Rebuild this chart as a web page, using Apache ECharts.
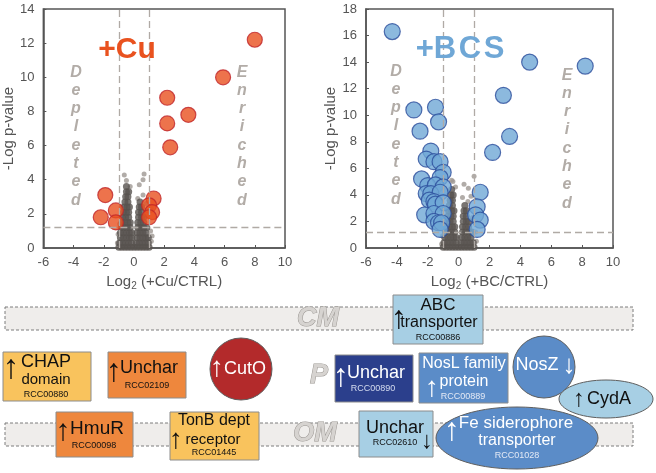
<!DOCTYPE html>
<html>
<head>
<meta charset="utf-8">
<script src="https://cdn.jsdelivr.net/npm/echarts@6/dist/echarts.min.js"></script>
<style>
html, body { margin: 0; padding: 0; background: #fff; }
#chart { width: 656px; height: 473px; }
</style>
</head>
<body>
<div id="chart"></div>
<script>
// axes
var xMin = -6, xMax = 10, xStep = 2;
var cuYMax = 14, bcYMax = 18, yStep = 2;
var fcCut = 1, pCut = 1.2;

// +Cu: significant proteins [log2 FC, -log p]
var cuHits = [
    [8.0, 12.2], [5.9, 10.0], [2.2, 8.8], [3.6, 7.8], [2.2, 7.3], [2.4, 5.9],
    [-1.9, 3.1], [-1.2, 2.2], [-2.2, 1.8], [-1.2, 1.5],
    [1.3, 2.9], [1.0, 2.5], [1.2, 2.1], [1.0, 1.8]
];
// +Cu: non-significant cloud
var cuCloud = [
    [-1.0, 0.05], [-0.8, 0.05], [-0.6, 0.05], [-0.4, 0.05], [-0.2, 0.05], [0, 0.05], [0.2, 0.05], [0.4, 0.05], [0.6, 0.05], [0.8, 0.05], [1.0, 0.05],
    [-0.95, 0.3], [-0.75, 0.3], [-0.55, 0.3], [-0.35, 0.3], [-0.15, 0.3], [0.15, 0.3], [0.35, 0.3], [0.55, 0.3], [0.75, 0.3], [0.95, 0.3],
    [-0.9, 0.6], [-0.7, 0.6], [-0.5, 0.6], [-0.3, 0.6], [-0.15, 0.6], [0.2, 0.6], [0.4, 0.6], [0.6, 0.6], [0.8, 0.6], [0.95, 0.6],
    [-0.9, 0.9], [-0.7, 0.9], [-0.5, 0.9], [-0.3, 0.9], [-0.15, 0.9], [0.2, 0.9], [0.4, 0.9], [0.6, 0.9], [0.8, 0.9],
    [-0.85, 1.2], [-0.65, 1.2], [-0.45, 1.2], [-0.25, 1.2], [0.25, 1.2], [0.45, 1.2], [0.65, 1.2], [0.85, 1.2],
    [-0.8, 1.5], [-0.6, 1.5], [-0.4, 1.5], [-0.25, 1.5], [0.25, 1.5], [0.45, 1.5], [0.65, 1.5],
    [-0.75, 1.8], [-0.55, 1.8], [-0.35, 1.8], [0.3, 1.8], [0.5, 1.8], [0.65, 1.8],
    [-0.7, 2.1], [-0.5, 2.1], [-0.35, 2.1], [0.3, 2.1], [0.5, 2.1],
    [-0.65, 2.4], [-0.45, 2.4], [-0.3, 2.4], [0.35, 2.4], [0.5, 2.4],
    [-0.6, 2.7], [-0.4, 2.7], [0.4, 2.7],
    [-0.55, 3.0], [-0.4, 3.0],
    [-0.5, 3.3], [-0.35, 3.3],
    [-0.5, 3.6]
];
var cuStray = [
    [-0.64, 4.28], [0.67, 4.33], [0.6, 4.0], [0.35, 3.7], [-0.5, 3.95], [-1.1, 0.3], [-1.05, 0.8], [-0.95, 1.4],
    [1.15, 0.4], [1.1, 1.0], [1.2, 0.7], [1.15, 2.3], [0.9, 1.9], [0.8, 2.6], [-0.85, 2.4], [-0.25, 3.6], [0.25, 2.9], [0.6, 3.1]
];

// +BCS: significant proteins
var bcHits = [
    [-4.3, 16.3], [4.6, 14.0], [8.2, 13.7], [2.9, 11.5], [-2.9, 10.4], [-1.5, 10.6], [-1.3, 9.5], [-2.5, 8.8],
    [3.3, 8.4], [2.2, 7.2], [-1.8, 7.3], [-2.1, 6.7], [-1.6, 6.5], [-1.2, 6.5], [-1.0, 5.7], [-2.4, 5.2],
    [-1.2, 5.3], [-2.0, 4.7], [-1.5, 4.75], [-1.0, 4.6], [-2.1, 4.1], [-1.8, 4.1], [-1.2, 4.2], [-1.9, 3.6],
    [-1.6, 3.5], [-1.5, 3.3], [-1.0, 3.4], [-2.2, 2.5], [-1.6, 2.6], [-1.0, 2.6], [-1.6, 2.0], [-1.3, 1.9],
    [-1.1, 1.9], [-1.2, 1.4],
    [1.4, 4.2], [1.2, 3.1], [1.1, 2.5], [1.4, 2.1], [1.2, 1.4]
];
var bcCloud = [
    [-1.0, 0.05], [-0.8, 0.05], [-0.6, 0.05], [-0.4, 0.05], [-0.2, 0.05], [0, 0.05], [0.2, 0.05], [0.4, 0.05], [0.6, 0.05], [0.8, 0.05], [1.0, 0.05],
    [-0.95, 0.4], [-0.75, 0.4], [-0.55, 0.4], [-0.35, 0.4], [-0.15, 0.4], [0.15, 0.4], [0.35, 0.4], [0.55, 0.4], [0.75, 0.4], [0.95, 0.4],
    [-0.9, 0.8], [-0.7, 0.8], [-0.5, 0.8], [-0.3, 0.8], [-0.15, 0.8], [0.2, 0.8], [0.4, 0.8], [0.6, 0.8], [0.8, 0.8],
    [-0.85, 1.2], [-0.65, 1.2], [-0.45, 1.2], [-0.25, 1.2], [0.25, 1.2], [0.45, 1.2], [0.65, 1.2], [0.85, 1.2],
    [-0.8, 1.6], [-0.6, 1.6], [-0.4, 1.6], [-0.25, 1.6], [0.25, 1.6], [0.45, 1.6], [0.65, 1.6],
    [-0.75, 2.0], [-0.55, 2.0], [-0.35, 2.0], [0.3, 2.0], [0.5, 2.0], [0.65, 2.0],
    [-0.7, 2.4], [-0.5, 2.4], [-0.35, 2.4], [0.3, 2.4], [0.5, 2.4],
    [-0.65, 2.8], [-0.45, 2.8], [-0.3, 2.8], [0.35, 2.8], [0.5, 2.8],
    [-0.6, 3.2], [-0.4, 3.2], [0.4, 3.2],
    [-0.55, 3.6], [-0.4, 3.6],
    [-0.5, 4.0], [-0.35, 4.0],
    [-0.45, 4.4]
];
var bcStray = [
    [-0.37, 5.0], [1.0, 5.4], [0.35, 4.8], [0.63, 4.5], [-0.2, 4.6], [0.8, 3.9], [-1.1, 0.3], [-1.05, 0.9],
    [1.15, 0.5], [1.1, 1.2], [0.9, 2.3], [-0.85, 3.0], [0.25, 3.8], [-0.45, 5.1], [0.6, 3.5]
];

var FONT = '"Liberation Sans", Arial, sans-serif';
var c = echarts.init(document.getElementById('chart'));

function xAx(idx, label) {
    return {
        gridIndex: idx, type: 'value', min: xMin, max: xMax, interval: xStep,
        name: '{a|Log}{s|2}{a| (' + label + ')}', nameLocation: 'middle', nameGap: 21,
        nameTextStyle: { rich: { a: { fontSize: 15, color: '#555', fontFamily: FONT }, s: { fontSize: 10, color: '#555', fontFamily: FONT, padding: [9, 0, 0, 0] } } },
        axisLine: { onZero: false, lineStyle: { color: '#555', width: 1.5 } },
        axisTick: { inside: true, length: 3, lineStyle: { color: '#555' } },
        axisLabel: { color: '#555', fontSize: 13, fontFamily: FONT, margin: 8 },
        splitLine: { show: false }
    };
}
function yAx(idx, max, gap) {
    return {
        gridIndex: idx, type: 'value', min: 0, max: max, interval: yStep,
        name: '-Log p-value', nameLocation: 'middle', nameGap: gap, nameRotate: 90,
        nameTextStyle: { fontSize: 15, color: '#555', fontFamily: FONT },
        axisLine: { onZero: false, lineStyle: { color: '#555', width: 1.5 } },
        axisTick: { inside: true, length: 3, lineStyle: { color: '#555' } },
        axisLabel: { color: '#555', fontSize: 13, fontFamily: FONT, margin: 9 },
        splitLine: { show: false }
    };
}
function cutLines() {
    return {
        silent: true, symbol: ['none', 'none'], animation: false, label: { show: false },
        lineStyle: { type: [7, 4], color: '#b0aaa5', width: 1.3 },
        data: [{ xAxis: -fcCut }, { xAxis: fcCut }, { yAxis: pCut }]
    };
}
function panelSeries(idx, stray, cloud, hits, fill, border, size) {
    return [
        { type: 'scatter', xAxisIndex: idx, yAxisIndex: idx, data: stray, symbolSize: 5,
          itemStyle: { color: '#9d9792' }, markLine: cutLines(), animation: false },
        { type: 'scatter', xAxisIndex: idx, yAxisIndex: idx, data: cloud, symbolSize: 7,
          itemStyle: { color: '#57524f' }, animation: false },
        { type: 'scatter', xAxisIndex: idx, yAxisIndex: idx, data: hits, symbolSize: size,
          itemStyle: { color: fill, borderColor: border, borderWidth: 1.2 }, animation: false }
    ];
}

function T(x, y, s, size, color, extra) {
    var st = { text: s, x: x, y: y, fill: color, font: (extra && extra.font ? extra.font + ' ' : '') + size + 'px ' + FONT,
               align: 'center', verticalAlign: 'middle', textAlign: 'center', textVerticalAlign: 'middle' };
    if (extra && extra.lineHeight) st.lineHeight = extra.lineHeight;
    if (extra && extra.stroke) { st.stroke = extra.stroke; st.lineWidth = extra.lineWidth || 1; }
    if (extra && extra.align) { st.align = extra.align; st.textAlign = extra.align; }
    if (extra && extra.va) { st.verticalAlign = extra.va; st.textVerticalAlign = extra.va; }
    return { type: 'text', z: 20, style: st };
}
function R(x, y, w, h, fill, stroke, dash) {
    return { type: 'rect', z: 10, shape: { x: x, y: y, width: w, height: h },
             style: { fill: fill, stroke: stroke || '#8c8c8c', lineWidth: 1, lineDash: dash || null } };
}
function E(cx, cy, rx, ry, fill) {
    return { type: 'ellipse', z: 10, shape: { cx: cx, cy: cy, rx: rx, ry: ry },
             style: { fill: fill, stroke: '#5f5f5f', lineWidth: 1 } };
}

var YEL = '#F9C35D', ORA = '#EE873D', RED = '#B32A2B', LBL = '#A7CFE4', MBL = '#5B8CC8', NAV = '#2B3F8C';
var LBLC = '#b2aca7';
var letters = function (w) { return w.split('').join('\n'); };
var memb = { font: 'italic bold', stroke: '#9a9692', lineWidth: 1 };
var ARW = { font: '200' };

var graphic = [
    // in-plot labels
    T(127, 50, '+Cu', 30, '#E9521F', { font: 'bold' }),
    T(460, 49, '+B\u200aC\u200aS', 31, '#6FA7D6', { font: 'bold' }),
    T(76, 63, letters('Depleted'), 16, LBLC, { font: 'italic bold', lineHeight: 18.3, va: 'top' }),
    T(242, 63, letters('Enriched'), 16, LBLC, { font: 'italic bold', lineHeight: 18.3, va: 'top' }),
    T(396, 62, letters('Depleted'), 16, LBLC, { font: 'italic bold', lineHeight: 18.3, va: 'top' }),
    T(567, 66, letters('Enriched'), 16, LBLC, { font: 'italic bold', lineHeight: 18.3, va: 'top' }),
    // membranes
    R(5, 307, 628, 23, '#EFEDEB', '#7d7d7d', [3, 2]),
    R(5, 423, 628, 23, '#EFEDEB', '#7d7d7d', [3, 2]),
    T(318, 319, 'CM', 27, '#d6d3d0', memb),
    T(319, 376, 'P', 27, '#d6d3d0', memb),
    T(315, 434, 'OM', 27, '#d6d3d0', memb),
    // +Cu proteins
    R(3, 352, 88, 49, YEL),
    T(11, 369, '\u2191', 34, '#111', ARW),
    T(46, 362, 'CHAP', 18, '#111'),
    T(46, 380, 'domain', 15, '#111'),
    T(46, 395, 'RCC00880', 9, '#111'),
    R(108, 352, 78, 46, ORA),
    T(114, 372, '\u2191', 32, '#111', ARW),
    T(149, 368, 'Unchar', 18, '#111'),
    T(147, 386, 'RCC02109', 9, '#111'),
    { type: 'circle', z: 10, shape: { cx: 241, cy: 369, r: 31 }, style: { fill: RED, stroke: '#5f5f5f', lineWidth: 1 } },
    T(217, 368, '\u2191', 28, '#fff', ARW),
    T(245, 369, 'CutO', 18, '#fff'),
    R(56, 412, 77, 45, ORA),
    T(63, 432, '\u2191', 30, '#111', ARW),
    T(97, 429, 'HmuR', 19, '#111'),
    T(94, 446, 'RCC00098', 9, '#111'),
    R(170, 412, 89, 48, YEL),
    T(214, 421, 'TonB dept', 16, '#111'),
    T(176, 440, '\u2191', 28, '#111', ARW),
    T(213, 440, 'receptor', 15, '#111'),
    T(214, 453, 'RCC01445', 9, '#111'),
    // +BCS proteins
    R(393, 295, 90, 49, LBL),
    T(438, 305, 'ABC', 17, '#111'),
    T(399, 319, '\u2191', 32, '#111', ARW),
    T(439, 323, 'transporter', 16, '#111'),
    T(438, 338, 'RCC00886', 9, '#111'),
    R(335, 355, 78, 47, NAV),
    T(341, 377, '\u2191', 32, '#fff', ARW),
    T(376, 373, 'Unchar', 18, '#fff'),
    T(373, 389, 'RCC00890', 9, '#d4dbef'),
    R(419, 353, 89, 50, MBL),
    T(464, 364, 'NosL family', 16, '#fff'),
    T(432, 388, '\u2191', 28, '#fff', ARW),
    T(464, 382, 'protein', 16, '#fff'),
    T(463, 397, 'RCC00889', 9, '#e3e9f5'),
    { type: 'circle', z: 10, shape: { cx: 544, cy: 367, r: 31 }, style: { fill: MBL, stroke: '#5f5f5f', lineWidth: 1 } },
    T(537, 365, 'NosZ', 18, '#fff'),
    T(569, 366, '\u2193', 26, '#fff', ARW),
    E(606, 399, 47, 19, LBL),
    T(579, 399, '\u2191', 24, '#111', ARW),
    T(609, 399, 'CydA', 18, '#111'),
    R(359, 411, 74, 46, LBL),
    T(395, 428, 'Unchar', 18, '#111'),
    T(395, 443, 'RCC02610', 9, '#111'),
    T(427, 441, '\u2193', 24, '#111', ARW),
    E(517, 438, 81, 31, MBL),
    T(452, 431, '\u2191', 32, '#fff', ARW),
    T(516, 423, 'Fe siderophore', 17, '#fff'),
    T(517, 441, 'transporter', 16, '#fff'),
    T(517, 456, 'RCC01028', 9, '#e3e9f5')
];

var option = {
    backgroundColor: '#fff',
    animation: false,
    textStyle: { fontFamily: FONT },
    grid: [
        { left: 38, top: 9, width: 247, height: 239, show: true, borderColor: '#555', borderWidth: 1.5 },
        { left: 366, top: 9, width: 247, height: 239, show: true, borderColor: '#555', borderWidth: 1.5 }
    ],
    xAxis: [xAx(0, '+Cu/CTRL'), xAx(1, '+BC/CTRL')],
    yAxis: [yAx(0, cuYMax, 17), yAx(1, bcYMax, 17)],
    series: [].concat(
        panelSeries(0, cuStray, cuCloud, cuHits, '#E9501F', '#C0262B', 15),
        panelSeries(1, bcStray, bcCloud, bcHits, '#6FA7D6', '#2B4C9B', 16)
    ),
    graphic: graphic
};
c.setOption(option);
</script>
</body>
</html>
